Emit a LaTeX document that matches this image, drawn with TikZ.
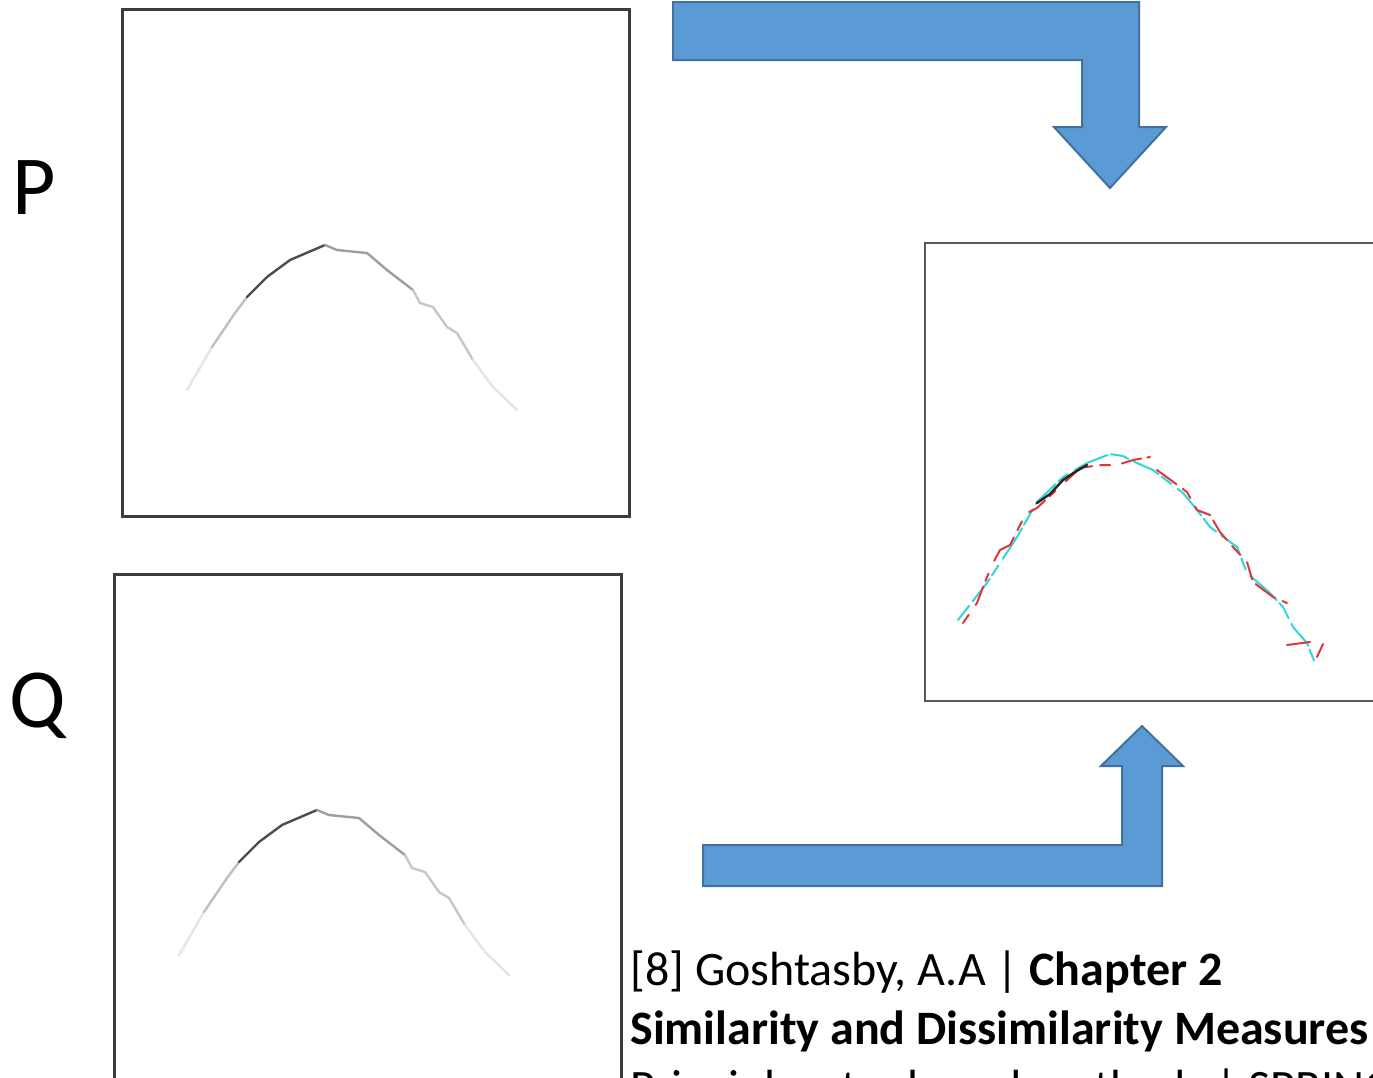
\documentclass[tikz,border=0pt]{standalone}
\usepackage{fontspec}
\setmainfont{Carlito}
\definecolor{arrowfill}{HTML}{5B9BD5}
\definecolor{arrowline}{HTML}{41719C}
\definecolor{boxline}{HTML}{3C3C3C}
\definecolor{ovcyan}{HTML}{33D6D6}
\definecolor{ovred}{HTML}{E0363C}
\tikzset{
  imgbox/.style={draw=boxline, line width=1.4pt, fill=white, inner sep=0pt},
  bluearrow/.style={fill=arrowfill, draw=arrowline, line width=1pt, line join=miter},
  biglabel/.style={font=\fontsize{42}{50}\selectfont, anchor=base west, inner sep=0pt},
  reftext/.style={font=\fontsize{24}{29}\selectfont, anchor=base west, inner sep=0pt},
  edgestroke/.style={line width=1.2pt, line cap=round, line join=round},
}
\newcommand{\edgecurve}{%
  \draw[edgestroke, black!10] (67,383) -- (92,340);
  \draw[edgestroke, black!25] (92,340) -- (115,306) -- (127,290);
  \draw[edgestroke, black!70] (127,290) -- (147,270) -- (170,253) -- (205,238);
  \draw[edgestroke, black!38] (205,238) -- (217,243) -- (247,246) -- (267,263) -- (293,283);
  \draw[edgestroke, black!22] (293,283) -- (300,296) -- (313,300) -- (327,320) -- (337,326) -- (353,353);
  \draw[edgestroke, black!10] (353,353) -- (373,380) -- (397,403);
}
\begin{document}
\begin{tikzpicture}[x=0.5pt, y=-0.5pt]
\useasboundingbox (0,0) rectangle (1373,1078);
\clip (0,0) rectangle (1373,1078);

% image boxes
\node[imgbox, anchor=north west, minimum width=253.6pt, minimum height=253.6pt] (P) at (121,8) {};
\node[imgbox, anchor=north west, minimum width=253.6pt, minimum height=270pt] (Q) at (113,573) {};
\node[imgbox, anchor=north west, minimum width=240pt, minimum height=229pt, line width=1.1pt, draw=black!65] (R) at (923.5,241.5) {};

% edge curves in P and Q
\begin{scope}[shift={(120,7)}]
  \edgecurve
\end{scope}
\begin{scope}[shift={(112,572)}]
  \edgecurve
\end{scope}

% overlay in R
\begin{scope}[line width=1pt, line cap=round, line join=round]
  \draw[ovcyan, dash pattern=on 9pt off 3pt on 14pt off 2pt on 6pt off 4pt on 18pt off 2pt]
    (958,620) -- (987,583) -- (1017,537) -- (1037,502) -- (1063,477) -- (1087,463) -- (1110,454)
    -- (1123,456) -- (1137,463) -- (1153,470) -- (1183,493) -- (1197,510) -- (1210,527)
    -- (1237,547) -- (1247,573) -- (1270,593) -- (1283,607) -- (1293,627) -- (1307,643) -- (1317,668);
  \draw[ovred, dash pattern=on 5pt off 6pt on 10pt off 3pt on 4pt off 7pt on 16pt off 4pt]
    (963,623) -- (977,603) -- (985,582) -- (993,563) -- (1000,550) -- (1010,545) -- (1020,525)
    -- (1027,513) -- (1037,508) -- (1080,468) -- (1100,465) -- (1117,465) -- (1133,460) -- (1150,457);
  \draw[ovred, dash pattern=on 12pt off 4pt on 6pt off 5pt on 9pt off 3pt]
    (1157,470) -- (1187,492) -- (1197,510) -- (1210,515) -- (1220,532) -- (1233,547)
    -- (1247,562) -- (1253,582) -- (1273,597) -- (1287,603);
  \draw[ovred] (1287,645) -- (1310,642);
  \draw[ovred] (1317,657) -- (1323,644);
  \draw[black!85, line width=1.2pt] (1037,503) -- (1050,494) -- (1063,480) -- (1075,472) -- (1087,465);
\end{scope}

% block arrows
\draw[bluearrow] (673,2) -- (1139,2) -- (1139,127) -- (1166,127) -- (1110,188)
  -- (1054,127) -- (1082,127) -- (1082,60) -- (673,60) -- cycle;
\draw[bluearrow] (703,886) -- (1162,886) -- (1162,766) -- (1183,766) -- (1142,726)
  -- (1101,766) -- (1122,766) -- (1122,845) -- (703,845) -- cycle;

% labels
\node[biglabel] (lp) at (12,214) {P};
\node[biglabel] (lq) at (9,727) {Q};

% reference text
\node[reftext] (t1) at (630,985) {[8] Goshtasby, A.A | \textbf{Chapter 2}};
\node[reftext] (t2) at (630,1044) {\textbf{Similarity and Dissimilarity Measures}};
\node[reftext] (t3) at (630,1103) {Principles, tools and methods | SPRINGER};
\end{tikzpicture}
\end{document}
